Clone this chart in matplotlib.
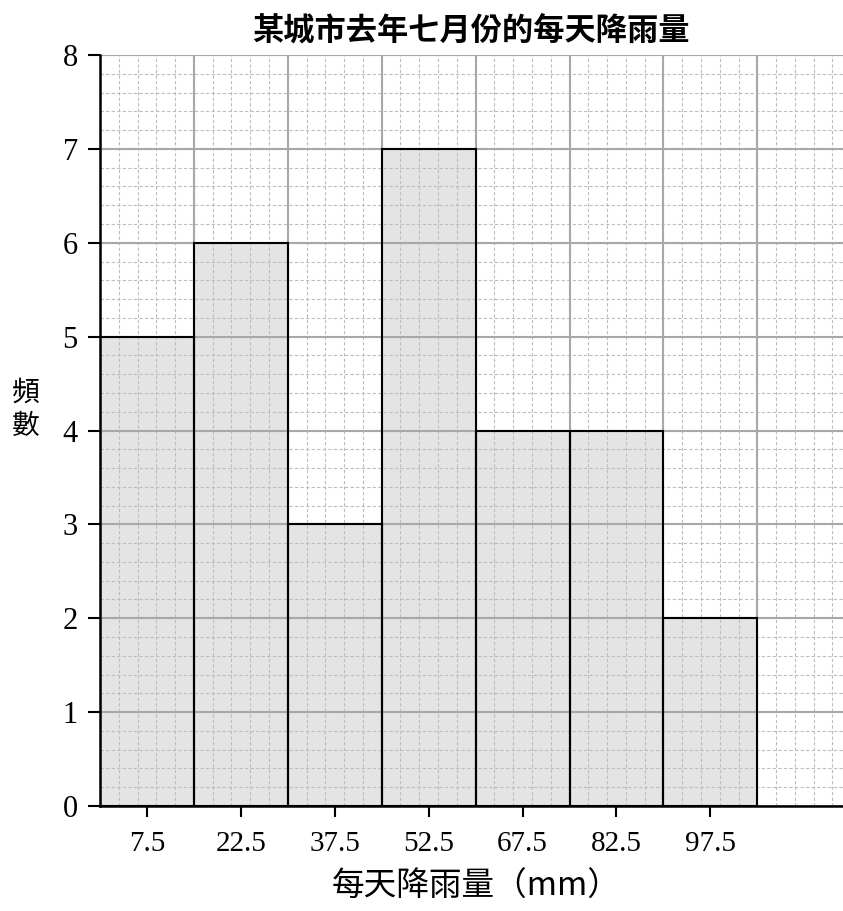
import numpy as np
import matplotlib
matplotlib.use("Agg")
import matplotlib.pyplot as plt

plt.rcParams['font.family'] = ['Liberation Serif', 'Noto Sans CJK TC', 'DejaVu Sans']

title = "某城市去年七月份的每天降雨量"
xlabel = "每天降雨量（mm）"
ylabel = "頻\n數"
bin_edges = [0, 15, 30, 45, 60, 75, 90, 105]
counts = [5, 6, 3, 7, 4, 4, 2]
midpoints = [7.5, 22.5, 37.5, 52.5, 67.5, 82.5, 97.5]
tick_labels = ["7.5", "22.5", "37.5", "52.5", "67.5", "82.5", "97.5"]

W, H = 843, 911
fig = plt.figure(figsize=(W / 100, H / 100), dpi=100)
ax = fig.add_axes([100 / W, 1 - 806 / H, 1 - 100 / W, (806 - 55) / H])

xmax = (843 - 100) / 93.9 * 15
ax.set_xlim(0, xmax)
ax.set_ylim(0, 8)

# grid
minor_x = np.arange(0, 121, 3)
minor_y = np.arange(0, 8.01, 0.2)
ax.vlines(minor_x, 0, 8, colors='#bdbdbd', linestyles=(0, (3, 2)), lw=0.8, zorder=1.5)
ax.hlines(minor_y, 0, 121, colors='#bdbdbd', linestyles=(0, (3, 2)), lw=0.8, zorder=1.5)
ax.vlines(np.arange(0, 121, 15), 0, 8, colors='#a8a8a8', lw=1.5, zorder=1.6)
ax.hlines(np.arange(0, 9, 1), 0, 121, colors='#a8a8a8', lw=1.5, zorder=1.6)

widths = np.diff(bin_edges)
ax.bar(bin_edges[:-1], counts, width=widths, align='edge', color='#e4e4e4',
       edgecolor='none', zorder=1)
ax.bar(bin_edges[:-1], counts, width=widths, align='edge', fill=False,
       edgecolor='black', lw=1.5, zorder=3)

ax.set_xticks(midpoints)
ax.set_xticklabels(tick_labels)
ax.set_yticks(range(0, 9))
ax.tick_params(axis='x', length=8, width=1.5, labelsize=21, pad=10, color='black')
ax.tick_params(axis='y', length=9, width=1.5, labelsize=22, pad=7, color='black')

for s in ['top', 'right']:
    ax.spines[s].set_visible(False)
for s in ['left', 'bottom']:
    ax.spines[s].set_linewidth(1.8)
    ax.spines[s].set_zorder(4)

fig.text(471 / W, 1 - 31 / H, title, ha='center', va='center',
         fontsize=22.5, fontweight='bold', family=['Noto Sans CJK TC'])
fig.text(476 / W, 1 - 887 / H, xlabel, ha='center', va='center', fontsize=23.5,
         family=['Noto Sans CJK TC', 'Liberation Serif'])
fig.text(26 / W, 1 - 409 / H, ylabel, ha='center', va='center', fontsize=20,
         family=['Noto Sans CJK TC'], linespacing=1.15)

fig.savefig("out.png", dpi=100)
